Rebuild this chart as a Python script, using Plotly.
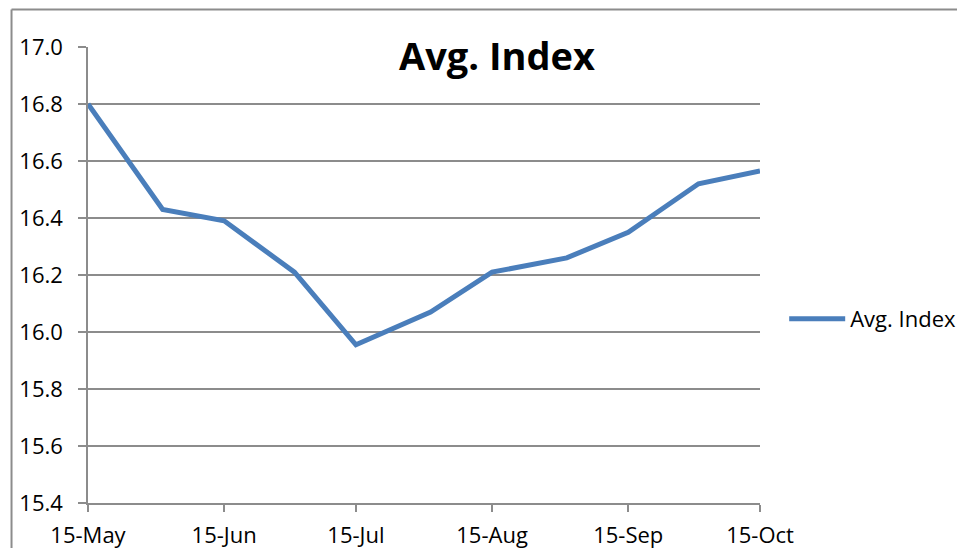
import plotly.graph_objects as go

dates = ["2012-05-15", "2012-06-01", "2012-06-15", "2012-07-01", "2012-07-15",
         "2012-08-01", "2012-08-15", "2012-09-01", "2012-09-15", "2012-10-01", "2012-10-15"]
values = [16.80, 16.43, 16.39, 16.21, 15.955, 16.07, 16.21, 16.26, 16.35, 16.52, 16.565]
tick_dates = ["2012-05-15", "2012-06-15", "2012-07-15", "2012-08-15", "2012-09-15", "2012-10-15"]
tick_labels = ["15-May", "15-Jun", "15-Jul", "15-Aug", "15-Sep", "15-Oct"]
series_name = "Avg. Index"

grid = "#8c8c8c"
font = "Open Sans"

fig = go.Figure()
fig.add_trace(go.Scatter(x=dates, y=values, mode="lines", name=series_name,
                         line=dict(color="#4A7EBB", width=5)))

border = dict(color="#8c8c8c", width=2)
fig.update_layout(
    width=957, height=540,
    margin=dict(l=80, r=205, t=39, b=45, autoexpand=False),
    paper_bgcolor="white", plot_bgcolor="white",
    font=dict(family=font, size=22, color="black"),
    title=dict(text="<b>Avg. Index</b>", xref="paper", yref="paper",
               x=0.6086, y=0.978, xanchor="center", yanchor="middle",
               font=dict(family=font, size=38, color="black")),
    showlegend=True,
    legend=dict(x=1.036, y=0.4035, xanchor="left", yanchor="middle",
                itemwidth=56,
                font=dict(family=font, size=22), bgcolor="rgba(0,0,0,0)"),
    shapes=[
        dict(type="line", xref="paper", yref="paper",
             x0=-0.1138, x1=-0.1138, y0=-0.1, y1=1.0820, line=border, layer="above"),
        dict(type="line", xref="paper", yref="paper",
             x0=-0.1138, x1=1.30, y0=1.0820, y1=1.0820, line=border, layer="above"),
    ],
)
fig.update_xaxes(type="date", range=["2012-05-15", "2012-10-15"],
                 tickmode="array", tickvals=tick_dates, ticktext=tick_labels,
                 showgrid=False, showline=True, linecolor=grid, linewidth=1.5,
                 ticks="outside", ticklen=7, tickcolor=grid, tickwidth=1.5,
                 ticklabelstandoff=5, automargin=False,
                 tickfont=dict(family=font, size=22), zeroline=False)
fig.update_yaxes(range=[15.4, 17.0], dtick=0.2, tickformat=".1f",
                 showgrid=True, gridcolor=grid, gridwidth=1.5,
                 showline=True, linecolor=grid, linewidth=1.5,
                 ticks="outside", ticklen=8, tickcolor=grid, tickwidth=1.5,
                 ticklabelstandoff=11, automargin=False,
                 tickfont=dict(family=font, size=22), zeroline=False)

fig.write_html("out.html")
